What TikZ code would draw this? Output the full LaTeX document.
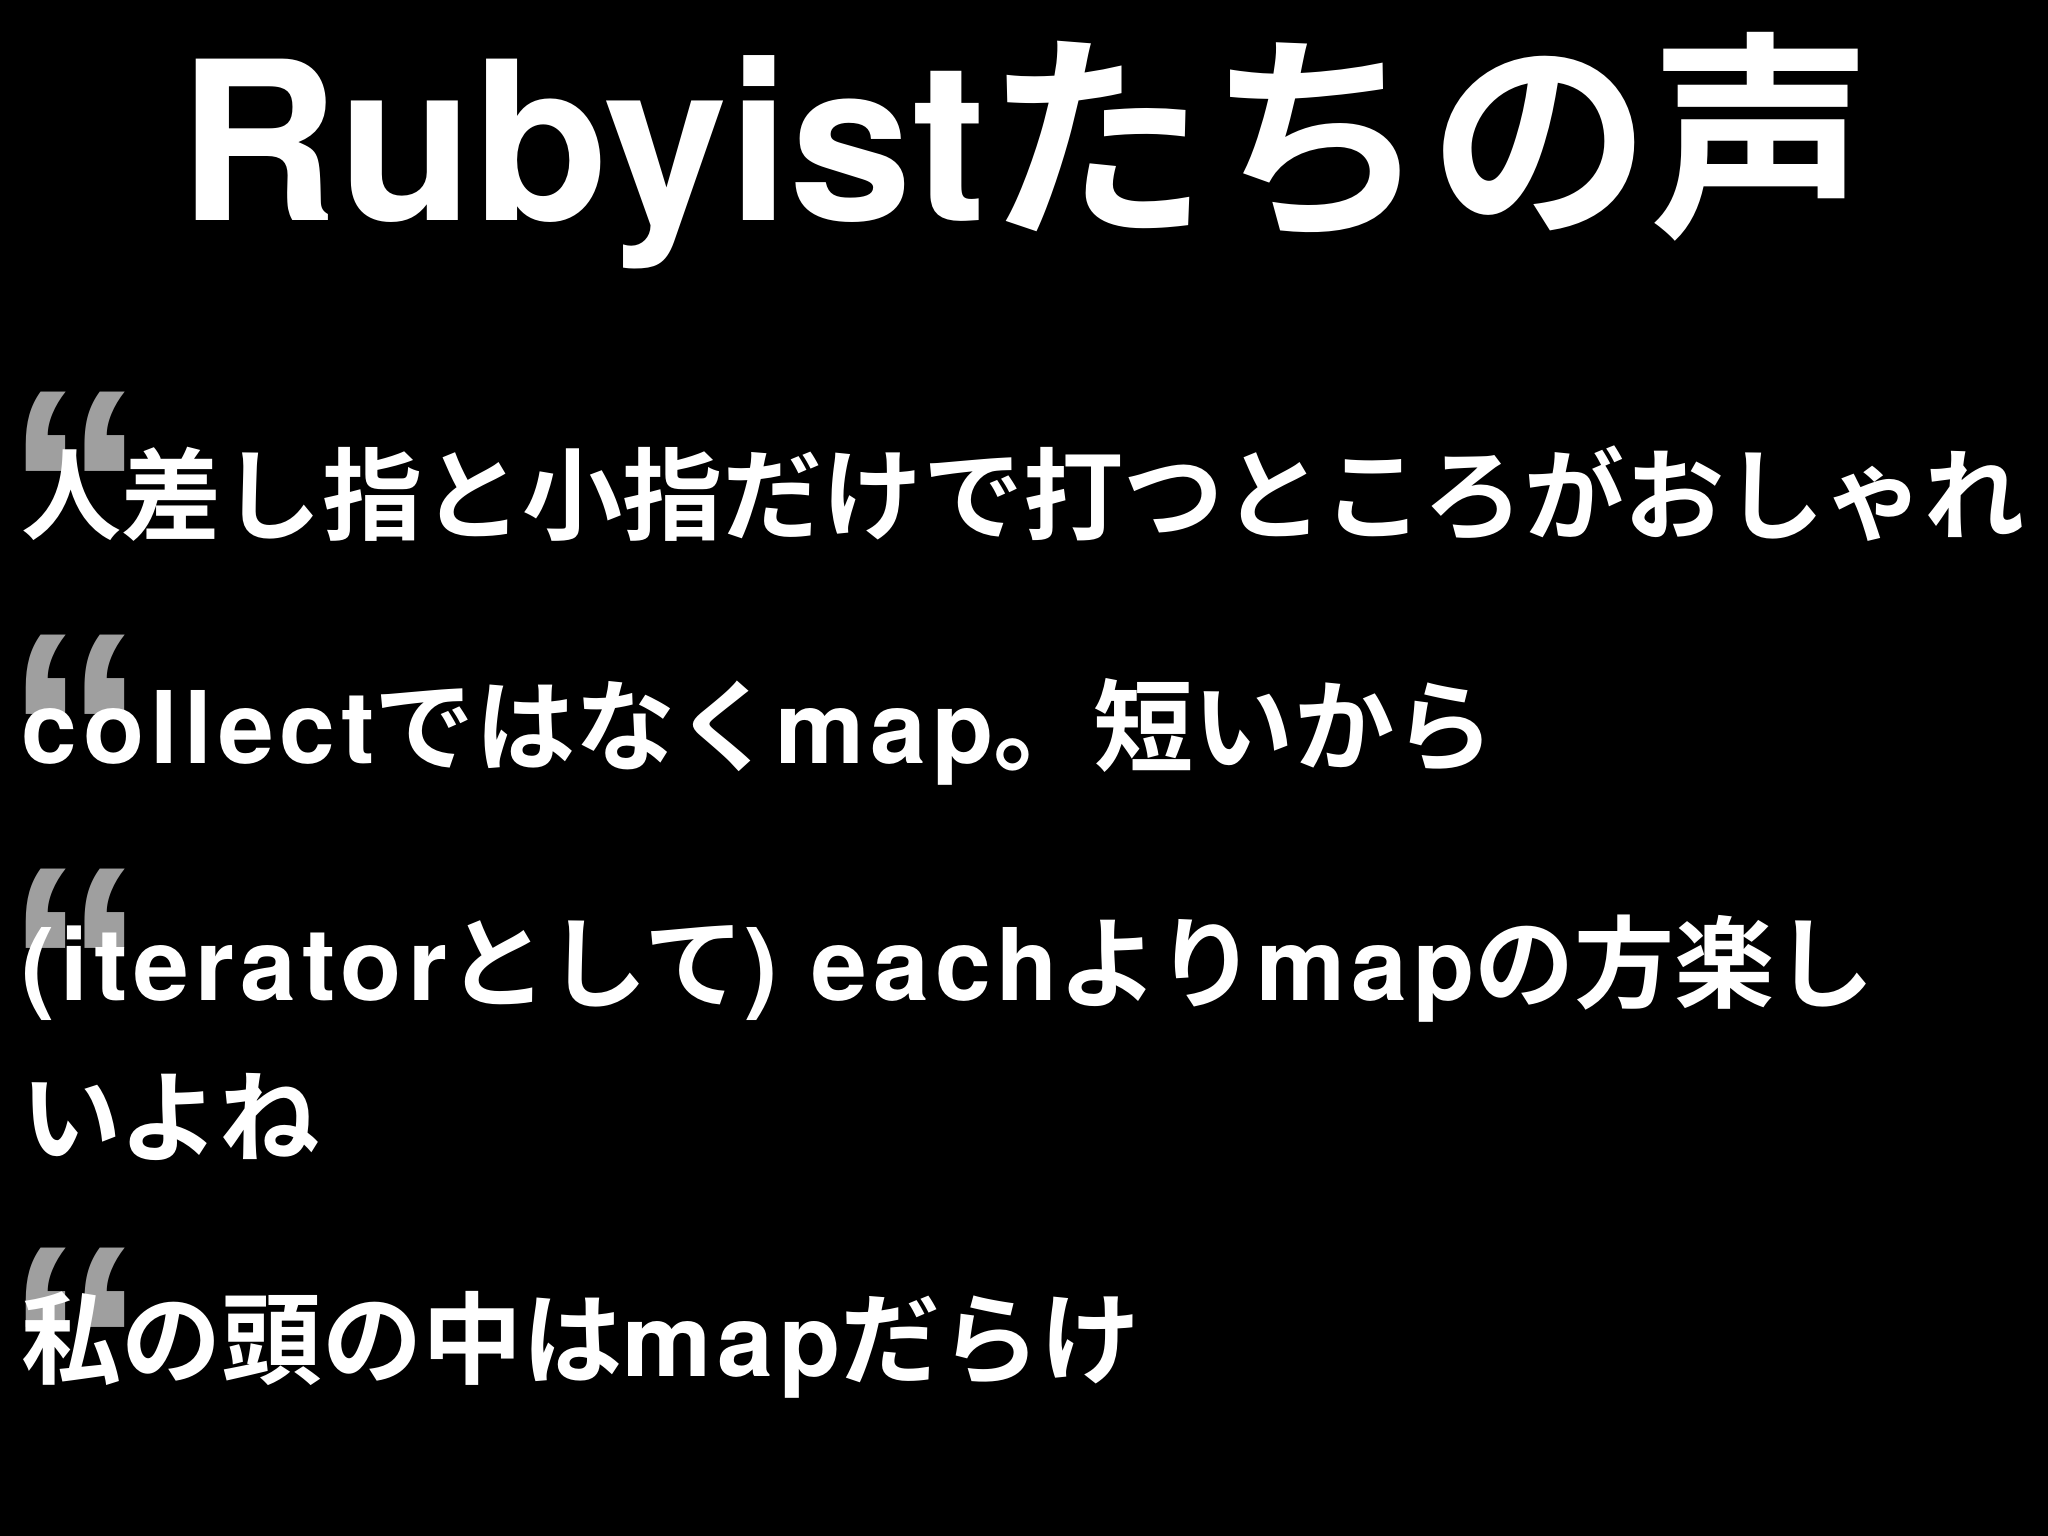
\documentclass[tikz,border=0pt]{standalone}
\usepackage{fontspec}
\setmainfont{Noto Sans CJK JP}[BoldFont={* Bold}]
\newfontfamily\lat{TeX Gyre Heros}[LetterSpace=6]
\newfontfamily\latt{TeX Gyre Heros}
\newfontfamily\qfont{Liberation Sans}
\begin{document}
\begin{tikzpicture}[x=0.013061cm,y=-0.013061cm,
  line/.style={anchor=west,inner sep=0pt,text=white,font=\bfseries\fontsize{28.5pt}{32pt}\selectfont},
  quote/.style={anchor=north west,inner sep=0pt,text=gray!75,font=\qfont\bfseries\fontsize{80pt}{80pt}\selectfont}]
\useasboundingbox (0,0) rectangle (1568,1176);
\fill[black] (0,0) rectangle (1568,1176);
\node[anchor=center,inner sep=0pt,text=white,font=\bfseries\fontsize{63pt}{70pt}\selectfont] (title) at (785,115) {{\latt\bfseries Rubyist}たちの声};
\node[quote] (q1) at (4,300) {“};
\node[quote] (q2) at (4,486) {“};
\node[quote] (q3) at (4,665) {“};
\node[quote] (q4) at (4,955) {“};
\node[line] (l1) at (16,378) {人差し指と小指だけで打つところがおしゃれ};
\node[line] (l2) at (16,560) {{\lat\bfseries collect}ではなく{\lat\bfseries map}。短いから};
\node[line] (l3) at (16,742) {{\lat\bfseries (iterator}として{\lat\bfseries) each}より{\lat\bfseries map}の方楽し};
\node[line] (l3b) at (16,855) {いよね};
\node[line] (l4) at (16,1030) {私の頭の中は{\lat\bfseries map}だらけ};
\end{tikzpicture}
\end{document}
